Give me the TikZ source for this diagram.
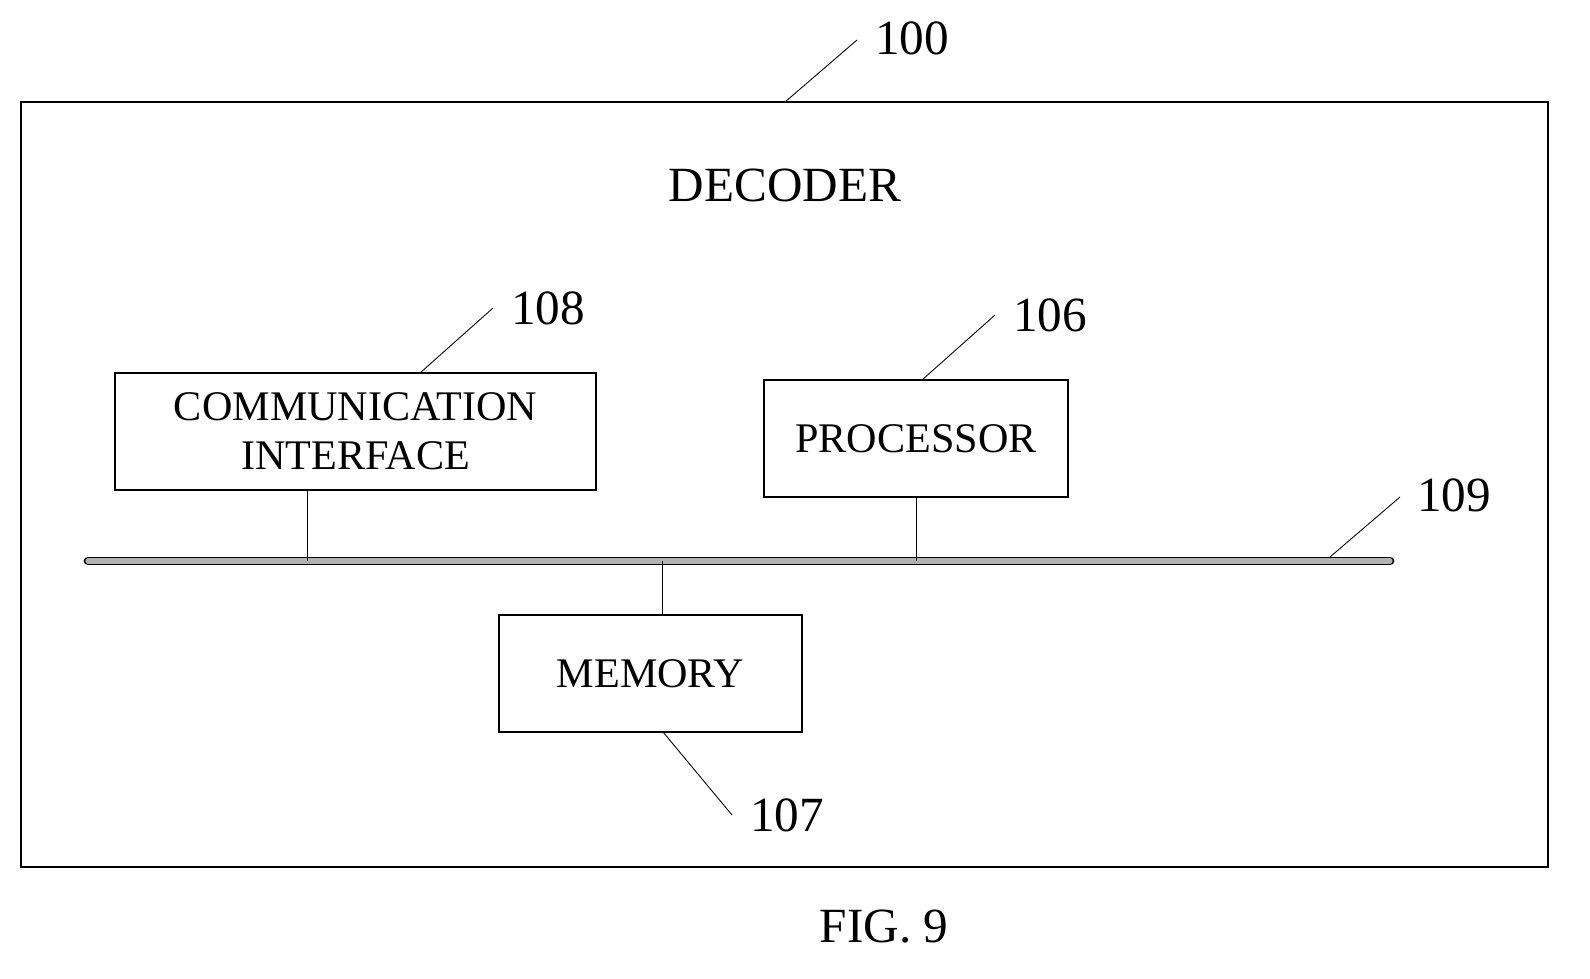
\documentclass[tikz,border=0pt]{standalone}
\usepackage{fontspec}
\setmainfont{Liberation Serif}
\begin{document}
\begin{tikzpicture}[x=0.02cm,y=-0.02cm,
  box/.style={draw,line width=0.6pt,inner sep=0pt,font=\fontsize{24}{28}\selectfont,align=center},
  num/.style={font=\fontsize{28}{32}\selectfont,inner sep=0pt},
  lead/.style={line width=0.5pt},
  conn/.style={line width=0.5pt}]
\useasboundingbox (0,0) rectangle (1590,978);
\node[draw,line width=0.6pt,minimum width=1527*0.02cm,minimum height=765*0.02cm,inner sep=0pt] (dec) at (784.5,484.5) {};
\node[font=\fontsize{28}{32}\selectfont] (dt) at (785,185) {DECODER};
\node[box,minimum width=481*0.02cm,minimum height=117*0.02cm] (ci) at (355.5,431.5) {COMMUNICATION\\INTERFACE};
\node[box,minimum width=304*0.02cm,minimum height=117*0.02cm] (pr) at (916,438.5) {PROCESSOR};
\node[box,minimum width=303*0.02cm,minimum height=117*0.02cm] (me) at (650.5,673.5) {MEMORY};
\coordinate (bl) at (88,561); \coordinate (br) at (1390,561);
\draw[line width=5pt,line cap=round] (bl) -- (br);
\draw[line width=3pt,gray!60,line cap=round] (bl) -- (br);
\coordinate (b1) at (307,561); \coordinate (b2) at (916,561); \coordinate (b3) at (662,561);
\draw[conn] (ci.south -| b1) -- (b1);
\draw[conn] (pr.south) -- (b2);
\draw[conn] (b3) -- (me.north -| b3);
\node[num] (n100) at (912,38) {100};
\node[num] (n108) at (548,308) {108};
\node[num] (n106) at (1050,315) {106};
\node[num] (n109) at (1454,495) {109};
\node[num] (n107) at (787,815) {107};
\coordinate (c100) at (785,102); \coordinate (e100) at (857,40);
\coordinate (c108) at (420,373); \coordinate (e108) at (493,308);
\coordinate (c106) at (922,380); \coordinate (e106) at (995,315);
\coordinate (c109) at (1330,557); \coordinate (e109) at (1400,497);
\coordinate (c107) at (663,732); \coordinate (e107) at (732,815);
\draw[lead] (c100) -- (e100);
\draw[lead] (c108) -- (e108);
\draw[lead] (c106) -- (e106);
\draw[lead] (c109) -- (e109);
\draw[lead] (c107) -- (e107);
\node[font=\fontsize{28}{32}\selectfont] (fig) at (884,927) {FIG. 9};
\end{tikzpicture}
\end{document}
